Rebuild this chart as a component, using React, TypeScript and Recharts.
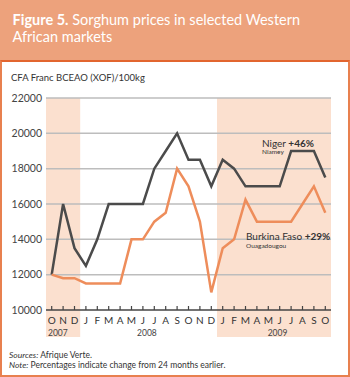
import { ComposedChart, Line, XAxis, YAxis, ReferenceArea, ReferenceLine } from "recharts";

// monthly sorghum prices, Oct 2007 - Oct 2009 (XOF/100kg)
const months = ["O", "N", "D", "J", "F", "M", "A", "M", "J", "J", "A", "S", "O", "N", "D", "J", "F", "M", "A", "M", "J", "J", "A", "S", "O"];
const yearGroups = [
    { label: "2007", first: 0, last: 2, shaded: true },
    { label: "2008", first: 3, last: 14, shaded: false },
    { label: "2009", first: 15, last: 24, shaded: true },
];
const nigerPrices = [12000, 16000, 13500, 12500, 14000, 16000, 16000, 16000, 16000, 18000, 19000, 20000, 18500, 18500, 17000, 18500, 18000, 17000, 17000, 17000, 17000, 19000, 19000, 19000, 17500];
const burkinaPrices = [12000, 11800, 11800, 11500, 11500, 11500, 11500, 14000, 14000, 15000, 15500, 18000, 17000, 15000, 11000, 13500, 14000, 16250, 15000, 15000, 15000, 15000, 16000, 17000, 15500];
const yTicks = [10000, 12000, 14000, 16000, 18000, 20000, 22000];

const data = months.map((m, i) => ({ idx: i, month: m, niger: nigerPrices[i], burkina: burkinaPrices[i] }));
const yearTicks = yearGroups.map((g) => (g.first + g.last) / 2);

const FONT = "Lato, 'Open Sans', sans-serif";

const MonthTick = ({ x, y, payload }: any) => (
    <g>
        <line x1={x} x2={x} y1={y - 4} y2={y} stroke="#444" strokeWidth={1.2} />
        <text x={x} y={y + 14} textAnchor="middle" fontSize={10} fill="#333" fontFamily={FONT}>
            {months[payload.value]}
        </text>
    </g>
);

const YearTick = ({ x, y, payload }: any) => {
    const g = yearGroups.find((yg) => (yg.first + yg.last) / 2 === payload.value);
    return (
        <text x={x} y={y + 5.5} textAnchor="middle" fontSize={8.5} fill="#444" fontFamily={FONT}>
            {g ? g.label : ""}
        </text>
    );
};

export default function App() {
    return (
        <div style={{ position: "absolute", left: 0, top: 0, width: 350, height: 377, background: "#fff", overflow: "hidden" }}>
            <div style={{ position: "absolute", left: 0, top: 0, width: 350, height: 61, background: "#EDA27C" }} />
            <div style={{ position: "absolute", left: 0, top: 60, width: 350, height: 317, boxSizing: "border-box", border: "2px solid #E8804F", borderTop: "2.5px solid #E2652F" }} />

            <div style={{ position: "absolute", left: 0, top: 0 }}>
                <ComposedChart width={350} height={377} data={data} margin={{ top: 98, right: 19, bottom: 35, left: 0 }}>
                    {yearGroups.filter((g) => g.shaded).map((g) => (
                        <ReferenceArea
                            key={g.label}
                            x1={g.first - 0.5}
                            x2={g.last + 0.5}
                            fill="#FBE0CF"
                            fillOpacity={1}
                            stroke="none"
                            shape={(p: any) => <rect x={p.x} y={p.y} width={p.width} height={p.height + 27} fill="#FBE0CF" />}
                        />
                    ))}
                    {yTicks.slice(1).map((v) => (
                        <ReferenceLine key={v} y={v} stroke="#BDBDBD" strokeWidth={1.5} />
                    ))}
                    <XAxis
                        dataKey="idx"
                        type="number"
                        domain={[-0.5, 24.5]}
                        ticks={data.map((d) => d.idx)}
                        interval={0}
                        height={20}
                        tickSize={0}
                        tickMargin={0}
                        axisLine={{ stroke: "#444", strokeWidth: 1.5 }}
                        tickLine={false}
                        tick={<MonthTick />}
                    />
                    <XAxis
                        xAxisId="yr"
                        type="number"
                        domain={[-0.5, 24.5]}
                        ticks={yearTicks}
                        interval={0}
                        height={12}
                        tickSize={0}
                        tickMargin={0}
                        axisLine={false}
                        tickLine={false}
                        tick={<YearTick />}
                    />
                    <YAxis
                        domain={[10000, 22000]}
                        ticks={yTicks}
                        width={46}
                        axisLine={false}
                        tickLine={false}
                        tickSize={0}
                        tickMargin={4}
                        tick={{ fontSize: 10.5, fill: "#444", fontFamily: FONT }}
                    />
                    <Line type="linear" dataKey="niger" stroke="#4B4B4B" strokeWidth={2.5} dot={false} isAnimationActive={false} />
                    <Line type="linear" dataKey="burkina" stroke="#EE8D5B" strokeWidth={2.5} dot={false} isAnimationActive={false} />
                </ComposedChart>
            </div>

            <svg width={350} height={377} style={{ position: "absolute", left: 0, top: 0, pointerEvents: "none" }} fontFamily={FONT}>
                <text x={12.5} y={24.5} fontSize={14.5} fill="#fff">
                    <tspan fontWeight="bold">Figure 5.</tspan> Sorghum prices in selected Western
                </text>
                <text x={12.5} y={42} fontSize={14.5} fill="#fff">African markets</text>

                <text x={11} y={80.5} fontSize={9.5} fill="#333">CFA Franc BCEAO (XOF)/100kg</text>

                <text x={262} y={146.5} fontSize={10} fill="#333">
                    Niger <tspan fontWeight="bold">+46%</tspan>
                </text>
                <text x={262} y={153.5} fontSize={6.5} fill="#333">Niamey</text>

                <text x={246} y={240} fontSize={10} fill="#333">
                    Burkina Faso <tspan fontWeight="bold">+29%</tspan>
                </text>
                <text x={246} y={247.5} fontSize={6.5} fill="#333">Ouagadougou</text>

                <text x={9} y={357.5} fontSize={8.5} fill="#333">
                    <tspan fontStyle="italic">Sources:</tspan> Afrique Verte.
                </text>
                <text x={9} y={367.5} fontSize={8.5} fill="#333">
                    <tspan fontStyle="italic">Note:</tspan> Percentages indicate change from 24 months earlier.
                </text>
            </svg>
        </div>
    );
}
